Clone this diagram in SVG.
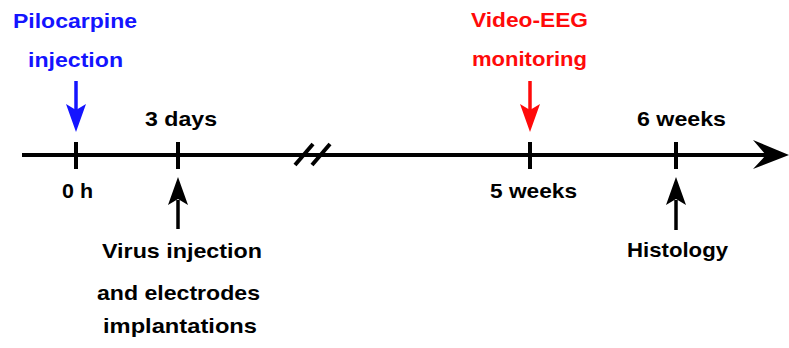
<svg xmlns="http://www.w3.org/2000/svg" width="789" height="348" viewBox="0 0 789 348">
<style>
text{font-family:"Liberation Sans",Arial,sans-serif;font-weight:bold;font-size:21px;text-anchor:middle}
.k{fill:#000}.b{fill:#1414ff}.r{fill:#ff0a0a}
.ln{stroke:#000;stroke-width:4;fill:none}
</style>
<rect width="789" height="348" fill="#fff"/>
<g id="connectors">
<line class="ln" x1="22" y1="155" x2="775" y2="155"/>
<polygon points="789,155 753,140 766,155 753,169" fill="#000"/>
<line class="ln" x1="295" y1="165" x2="313" y2="144"/>
<line class="ln" x1="312" y1="165" x2="330" y2="144"/>
<line class="ln" x1="76" y1="142" x2="76" y2="169"/>
<line class="ln" x1="178" y1="142" x2="178" y2="169"/>
<line class="ln" x1="530" y1="142" x2="530" y2="169"/>
<line class="ln" x1="676" y1="142" x2="676" y2="169"/>
<line x1="76" y1="81" x2="76" y2="110" stroke="#1414ff" stroke-width="3.5"/>
<polygon points="76,132 66,104 76,110 86,104" fill="#1414ff"/>
<line x1="530" y1="81" x2="530" y2="110" stroke="#ff0a0a" stroke-width="3.5"/>
<polygon points="530,132 520,104 530,110 540,104" fill="#ff0a0a"/>
<line x1="178" y1="200" x2="178" y2="229" stroke="#000" stroke-width="3.5"/>
<polygon points="178,177 168,205 178,199 188,205" fill="#000"/>
<line x1="676" y1="200" x2="676" y2="230" stroke="#000" stroke-width="3.5"/>
<polygon points="676,177 666,205 676,199 686,205" fill="#000"/>
</g>
<g id="pilocarpine">
<text class="b" x="75" y="28" textLength="124" lengthAdjust="spacingAndGlyphs">Pilocarpine</text>
<text class="b" x="75.5" y="67" textLength="95" lengthAdjust="spacingAndGlyphs">injection</text>
</g>
<g id="t0"><text class="k" x="77.5" y="198" textLength="31" lengthAdjust="spacingAndGlyphs">0 h</text></g>
<g id="t3d"><text class="k" x="181" y="126" textLength="72" lengthAdjust="spacingAndGlyphs">3 days</text></g>
<g id="virus">
<text class="k" x="182" y="258" textLength="160" lengthAdjust="spacingAndGlyphs">Virus injection</text>
<text class="k" x="178.5" y="300" textLength="163" lengthAdjust="spacingAndGlyphs">and electrodes</text>
<text class="k" x="180" y="333" textLength="154" lengthAdjust="spacingAndGlyphs">implantations</text>
</g>
<g id="eeg">
<text class="r" x="529.5" y="27" textLength="117" lengthAdjust="spacingAndGlyphs">Video-EEG</text>
<text class="r" x="529.5" y="66" textLength="115" lengthAdjust="spacingAndGlyphs">monitoring</text>
</g>
<g id="t5w"><text class="k" x="533.5" y="198" textLength="87" lengthAdjust="spacingAndGlyphs">5 weeks</text></g>
<g id="t6w"><text class="k" x="681.5" y="126" textLength="89" lengthAdjust="spacingAndGlyphs">6 weeks</text></g>
<g id="histology"><text class="k" x="677.5" y="257" textLength="101" lengthAdjust="spacingAndGlyphs">Histology</text></g>
</svg>
